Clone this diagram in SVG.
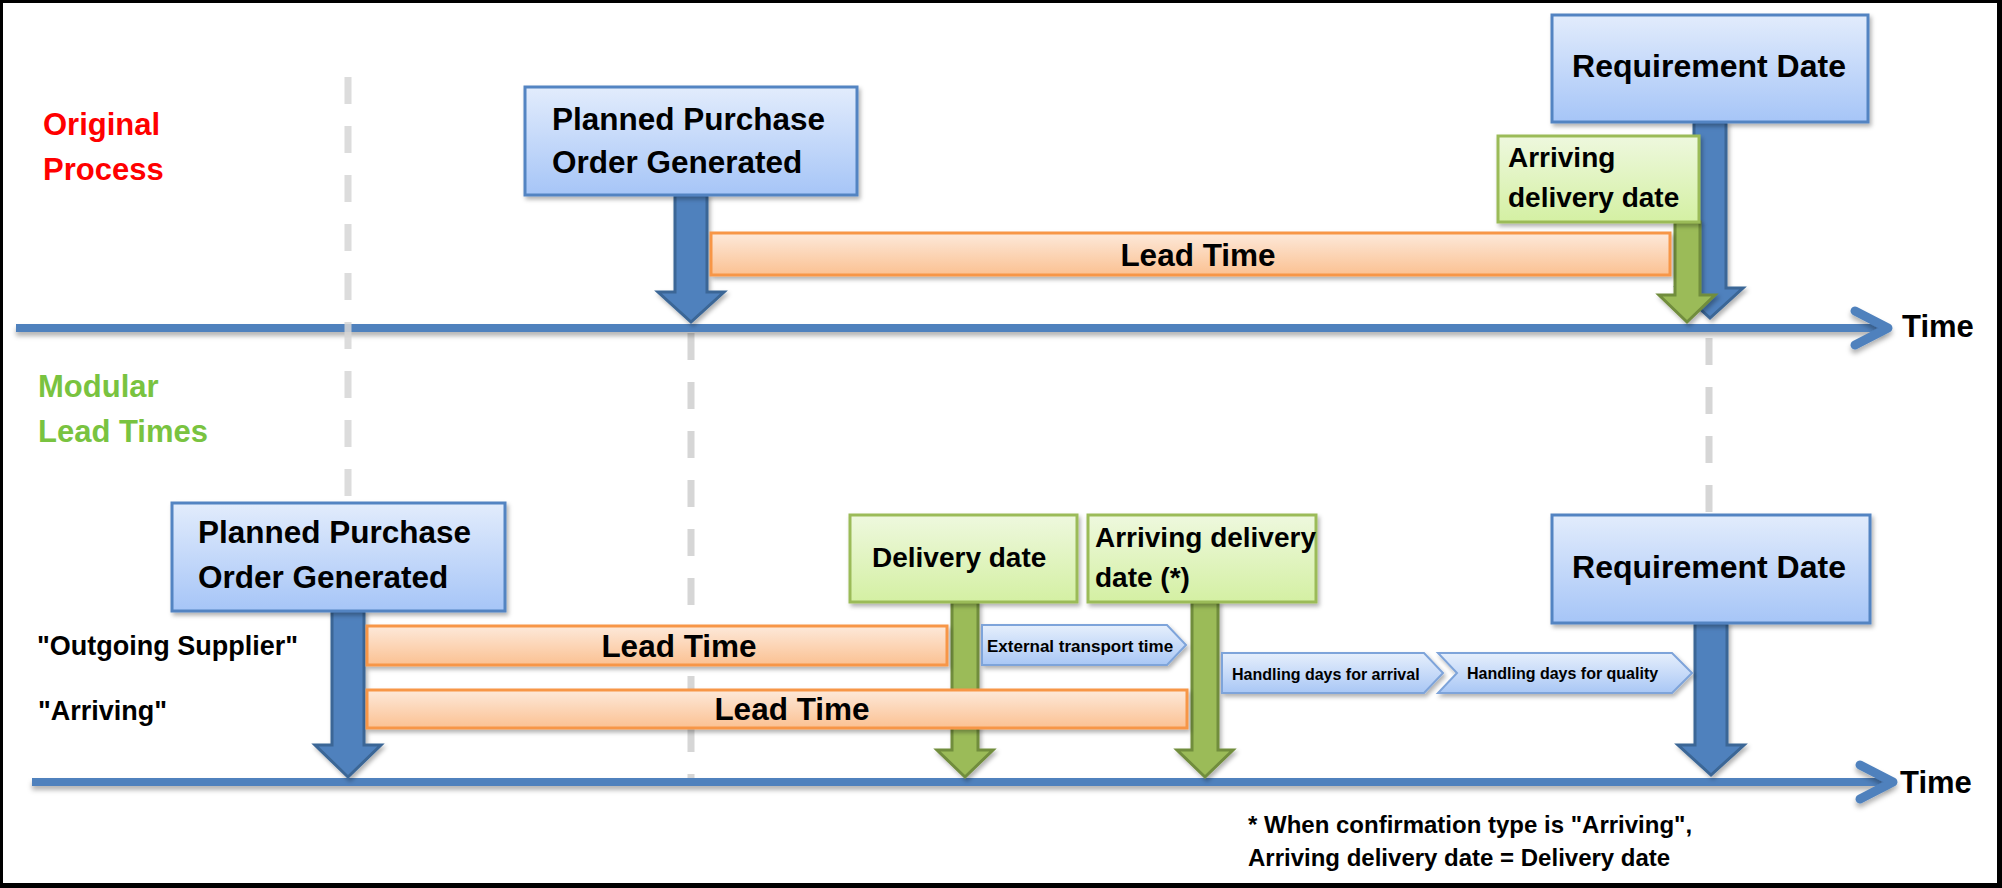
<svg xmlns="http://www.w3.org/2000/svg" width="2002" height="888" viewBox="0 0 2002 888">
<defs>
  <linearGradient id="gBlue" x1="0" y1="0" x2="0" y2="1">
    <stop offset="0" stop-color="#e2ecfc"/>
    <stop offset="1" stop-color="#a6c5f7"/>
  </linearGradient>
  <linearGradient id="gGreen" x1="0" y1="0" x2="0" y2="1">
    <stop offset="0" stop-color="#eef8de"/>
    <stop offset="1" stop-color="#d4f0a3"/>
  </linearGradient>
  <linearGradient id="gOrange" x1="0" y1="0" x2="0" y2="1">
    <stop offset="0" stop-color="#fde9da"/>
    <stop offset="1" stop-color="#fbc192"/>
  </linearGradient>
  <linearGradient id="gChev" x1="0" y1="0" x2="0" y2="1">
    <stop offset="0" stop-color="#e6effc"/>
    <stop offset="1" stop-color="#a9c7f5"/>
  </linearGradient>
  <filter id="sh" x="-10%" y="-10%" width="130%" height="140%">
    <feDropShadow dx="2" dy="3" stdDeviation="2" flood-color="#000" flood-opacity="0.3"/>
  </filter>
  <filter id="shLine" filterUnits="userSpaceOnUse" x="0" y="0" width="2002" height="888">
    <feDropShadow dx="0" dy="4" stdDeviation="2.5" flood-color="#000" flood-opacity="0.3"/>
  </filter>
</defs>
<style>
  text { font-family: "Liberation Sans", Arial, sans-serif; font-weight: bold; fill: #000; }
  .boxB { fill: url(#gBlue); stroke: #5284c2; stroke-width: 3; filter: url(#sh); }
  .boxG { fill: url(#gGreen); stroke: #9bbb59; stroke-width: 3; filter: url(#sh); }
  .bar { fill: url(#gOrange); stroke: #f79646; stroke-width: 3; filter: url(#sh); }
  .chev { fill: url(#gChev); stroke: #7ea4da; stroke-width: 2; filter: url(#sh); }
  .axis { fill: #4f81bd; filter: url(#shLine); }
  .axhead { fill: none; stroke: #4f81bd; stroke-width: 9; stroke-linecap: round; stroke-linejoin: round; filter: url(#shLine); }
  .dash { stroke: #d6d6d6; stroke-width: 7; stroke-dasharray: 27 22; fill: none; }
  .arrB { fill: #4f81bd; stroke: #3a6696; stroke-width: 3; filter: url(#sh); }
  .arrG { fill: #9bbb59; stroke: #718d3c; stroke-width: 3; filter: url(#sh); }
  .big { font-size: 31.5px; }
  .mid { font-size: 28px; }
  .sm { font-size: 16px; }
</style>

<!-- frame -->
<rect x="0" y="0" width="2002" height="888" fill="#000"/>
<rect x="3" y="3" width="1994" height="880" fill="#fff"/>

<!-- section titles -->
<g id="title-original">
  <text x="43" y="135" font-size="31" style="fill:#ff0000">Original</text>
  <text x="43" y="180" font-size="31" style="fill:#ff0000">Process</text>
</g>
<g id="title-modular">
  <text x="38" y="397" font-size="31" style="fill:#79c340">Modular</text>
  <text x="38" y="442" font-size="31" style="fill:#79c340">Lead Times</text>
</g>

<!-- guide lines -->
<g id="guides">
  <line class="dash" x1="691" y1="333" x2="691" y2="780"/>
  <line class="dash" x1="1709" y1="338" x2="1709" y2="515"/>
</g>

<!-- connectors: time axes and block arrows -->
<g id="connectors">
  <rect class="axis" x="16" y="324" width="1868" height="8"/>
  <path class="axhead" d="M1855,311 L1888,328 L1855,345"/>
  <rect class="axis" x="32" y="778" width="1857" height="8"/>
  <path class="axhead" d="M1860,765 L1893,782 L1860,799"/>

  <path class="arrB" d="M675,195 L707,195 L707,292 L724,292 L691,322 L658,292 L675,292 Z"/>
  <path class="arrB" d="M1694,122 L1726,122 L1726,288 L1743,288 L1710,318 L1677,288 L1694,288 Z"/>
  <path class="arrG" d="M1675,222 L1700,222 L1700,295 L1715,295 L1687,322 L1659,295 L1675,295 Z"/>

  <path class="arrB" d="M332,611 L364,611 L364,745 L381,745 L348,777 L315,745 L332,745 Z"/>
  <path class="arrG" d="M952,602 L978,602 L978,750 L993,750 L965,777 L937,750 L952,750 Z"/>
  <path class="arrG" d="M1192,602 L1218,602 L1218,750 L1233,750 L1205,777 L1177,750 L1192,750 Z"/>
  <path class="arrB" d="M1695,623 L1727,623 L1727,745 L1744,745 L1711,775 L1678,745 L1695,745 Z"/>
</g>
<line class="dash" x1="348" y1="77" x2="348" y2="503" opacity="0.85"/>

<!-- original process nodes -->
<g id="ppo-top">
  <rect class="boxB" x="525" y="87" width="332" height="108"/>
  <text class="big" x="552" y="130">Planned Purchase</text>
  <text class="big" x="552" y="173">Order Generated</text>
</g>
<g id="leadtime-top">
  <rect class="bar" x="711" y="233" width="959" height="42"/>
  <text class="big" x="1198" y="266" text-anchor="middle">Lead Time</text>
</g>
<g id="req-top">
  <rect class="boxB" x="1552" y="15" width="316" height="107"/>
  <text x="1709" y="77" font-size="32" text-anchor="middle">Requirement Date</text>
</g>
<g id="arriving-top">
  <rect class="boxG" x="1498" y="136" width="201" height="86"/>
  <text class="mid" x="1508" y="167">Arriving</text>
  <text class="mid" x="1508" y="207">delivery date</text>
</g>
<g id="time-top">
  <text x="1902" y="337" font-size="31">Time</text>
</g>

<!-- modular lead times nodes -->
<g id="ppo-bottom">
  <rect class="boxB" x="172" y="503" width="333" height="108"/>
  <text class="big" x="198" y="543">Planned Purchase</text>
  <text class="big" x="198" y="588">Order Generated</text>
</g>
<g id="label-outgoing">
  <text x="37" y="655" font-size="27">"Outgoing Supplier"</text>
</g>
<g id="label-arriving">
  <text x="38" y="720" font-size="27">"Arriving"</text>
</g>
<g id="leadtime-outgoing">
  <rect class="bar" x="367" y="626" width="580" height="39"/>
  <text class="big" x="679" y="657" text-anchor="middle">Lead Time</text>
</g>
<g id="leadtime-arriving">
  <rect class="bar" x="367" y="690" width="820" height="38"/>
  <text class="big" x="792" y="720" text-anchor="middle">Lead Time</text>
</g>
<g id="delivery-date">
  <rect class="boxG" x="850" y="515" width="227" height="87"/>
  <text class="mid" x="872" y="567">Delivery date</text>
</g>
<g id="arriving-date">
  <rect class="boxG" x="1088" y="515" width="228" height="87"/>
  <text class="mid" x="1095" y="547">Arriving delivery</text>
  <text class="mid" x="1095" y="587">date (*)</text>
</g>
<g id="external-transport">
  <path class="chev" d="M982,625 L1167,625 L1186,645 L1167,665 L982,665 Z"/>
  <text x="987" y="652" font-size="17">External transport time</text>
</g>
<g id="handling-arrival">
  <path class="chev" d="M1222,653 L1424,653 L1443,673 L1424,693 L1222,693 Z"/>
  <text class="sm" x="1232" y="680">Handling days for arrival</text>
</g>
<g id="handling-quality">
  <path class="chev" d="M1438,653 L1672,653 L1692,673 L1672,693 L1438,693 L1457,673 Z"/>
  <text class="sm" x="1467" y="679">Handling days for quality</text>
</g>
<g id="req-bottom">
  <rect class="boxB" x="1552" y="515" width="318" height="108"/>
  <text x="1709" y="578" font-size="32" text-anchor="middle">Requirement Date</text>
</g>
<g id="time-bottom">
  <text x="1900" y="793" font-size="31">Time</text>
</g>
<g id="footnote">
  <text x="1248" y="833" font-size="24">* When confirmation type is "Arriving",</text>
  <text x="1248" y="866" font-size="24">Arriving delivery date = Delivery date</text>
</g>
</svg>
